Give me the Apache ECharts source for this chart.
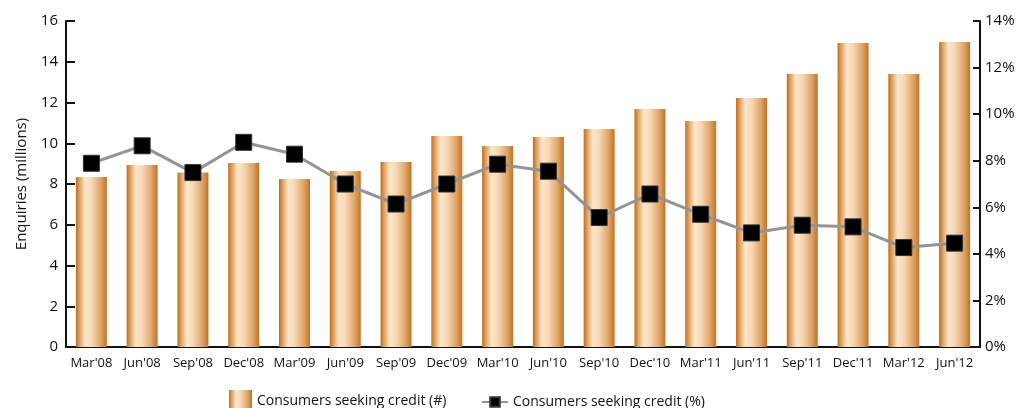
<!DOCTYPE html>
<html>
<head>
<meta charset="utf-8">
<script src="https://cdn.jsdelivr.net/npm/echarts@6/dist/echarts.min.js"></script>
<style>
  html, body { margin: 0; padding: 0; background: #fff; }
  #chart { width: 1019px; height: 408px; }
</style>
</head>
<body>
<div id="chart"></div>
<script>
// Quarterly consumer credit enquiries
const quarters = ["Mar'08", "Jun'08", "Sep'08", "Dec'08", "Mar'09", "Jun'09", "Sep'09", "Dec'09", "Mar'10", "Jun'10", "Sep'10", "Dec'10", "Mar'11", "Jun'11", "Sep'11", "Dec'11", "Mar'12", "Jun'12"];
// Enquiries, millions
const seekingCount = [8.34, 8.93, 8.57, 9.03, 8.25, 8.64, 9.08, 10.36, 9.87, 10.31, 10.70, 11.68, 11.09, 12.22, 13.40, 14.92, 13.40, 14.97];
// Share of consumers seeking credit, %
const seekingPct = [7.89, 8.64, 7.49, 8.79, 8.28, 7.00, 6.14, 7.00, 7.85, 7.55, 5.56, 6.57, 5.70, 4.90, 5.23, 5.16, 4.27, 4.46];

const countName = 'Consumers seeking credit (#)';
const pctName = 'Consumers seeking credit (%)';
const FONT = '"Open Sans", "Noto Sans", sans-serif';

const chart = echarts.init(document.getElementById('chart'));

const barFill = new echarts.graphic.LinearGradient(0, 0, 1, 0, [
  { offset: 0, color: '#bf6d18' },
  { offset: 0.12, color: '#dfa265' },
  { offset: 0.3, color: '#fde6cb' },
  { offset: 0.5, color: '#f8d8b4' },
  { offset: 0.8, color: '#dea46a' },
  { offset: 1, color: '#c3731f' }
]);

const legendText = { fontFamily: FONT, fontSize: 14, color: '#111' };

chart.setOption({
  animation: false,
  textStyle: { fontFamily: FONT },
  grid: { left: 66, right: 39, top: 21, bottom: 61, containLabel: false },
  legend: [
    {
      left: 224,
      top: 385,
      itemWidth: 23,
      itemHeight: 23,
      textStyle: legendText,
      data: [{ name: countName, icon: 'rect' }]
    },
    {
      left: 476,
      top: 390,
      itemWidth: 26,
      itemHeight: 12,
      textStyle: legendText,
      data: [{ name: pctName }]
    }
  ],
  xAxis: {
    type: 'category',
    data: quarters,
    axisLine: { lineStyle: { color: '#111', width: 2 } },
    axisTick: { show: false },
    axisLabel: { color: '#111', fontSize: 13, margin: 10, interval: 0 }
  },
  yAxis: [
    {
      type: 'value',
      min: 0, max: 16, interval: 2,
      name: 'Enquiries (millions)',
      nameLocation: 'middle',
      nameGap: 37,
      nameTextStyle: { color: '#111', fontSize: 15 },
      axisLine: { show: true, lineStyle: { color: '#111', width: 2 } },
      axisTick: { show: true, inside: true, length: 9, lineStyle: { color: '#111', width: 2 } },
      axisLabel: { color: '#111', fontSize: 15, margin: 8 },
      splitLine: { show: false }
    },
    {
      type: 'value',
      min: 0, max: 14, interval: 2,
      position: 'right',
      axisLine: { show: true, lineStyle: { color: '#111', width: 2 } },
      axisTick: { show: true, inside: true, length: 7, lineStyle: { color: '#111', width: 2 } },
      axisLabel: { color: '#111', fontSize: 15, margin: 5, formatter: '{value}%' },
      splitLine: { show: false }
    }
  ],
  series: [
    {
      name: countName,
      type: 'bar',
      yAxisIndex: 0,
      data: seekingCount,
      barWidth: 31,
      itemStyle: { color: barFill }
    },
    {
      name: pctName,
      type: 'line',
      yAxisIndex: 1,
      data: seekingPct,
      symbol: 'rect',
      symbolSize: 16,
      lineStyle: { color: '#949494', width: 3 },
      itemStyle: { color: '#000', borderColor: '#333', borderWidth: 1 },
      z: 5
    }
  ]
});
</script>
</body>
</html>
